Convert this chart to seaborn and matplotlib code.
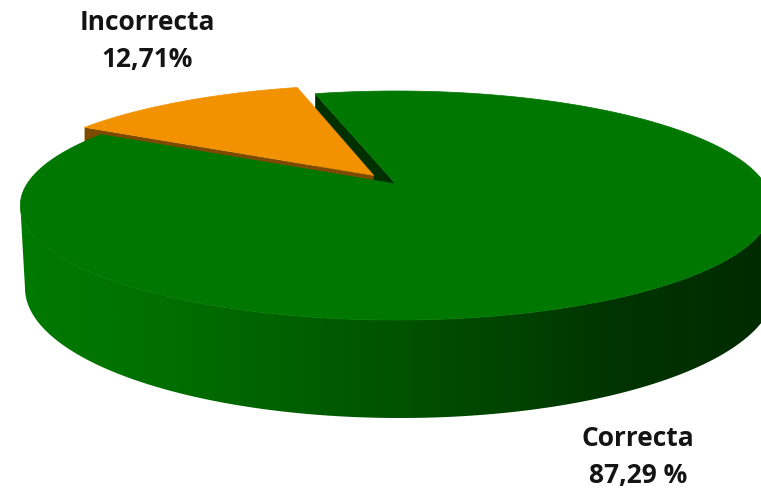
import numpy as np
import matplotlib
matplotlib.use("Agg")
import matplotlib.pyplot as plt
from matplotlib.colors import LinearSegmentedColormap
from matplotlib.patches import Polygon
import seaborn as sns

categories = ["Incorrecta", "Correcta"]
values = [12.71, 87.29]
value_labels = ["12,71%", "87,29 %"]
explode = [0.1, 0.0]

sns.set_theme(style="white")
plt.rcParams["font.family"] = ["Open Sans", "DejaVu Sans"]

# projection of the pie's disc into the picture (pixels)
CX, APEX_Y, B, A, K = 396.0, 184.0, 369.0, 110.5, 0.188
LOW_CX, LOW_CY, LOW_RX, LOW_RY = 400.0, 288.0, 375.0, 130.0
TOP_CX, TOP_CY = CX, 205.5
TOP_RX, TOP_RY = B / np.sqrt(1 - K ** 2), 114.5


def project(u, v):
    u, v = np.asarray(u, float), np.asarray(v, float)
    d = 1 + K * v
    return np.column_stack([CX + B * u / d, APEX_Y - A * v / d])


def lower(pts):
    out = pts.copy()
    out[:, 0] = LOW_CX + (pts[:, 0] - TOP_CX) * LOW_RX / TOP_RX
    out[:, 1] = LOW_CY + (pts[:, 1] - TOP_CY) * LOW_RY / TOP_RY
    return out


fig = plt.figure(figsize=(7.61, 4.93), dpi=100, facecolor="white")
ax = fig.add_axes([0, 0, 1, 1])

wedges, _ = ax.pie(values, startangle=105, counterclock=True, explode=explode, radius=1.0)
geom = []
for w in wedges:
    t = np.radians(np.linspace(w.theta1, w.theta2, 400))
    cu, cv = w.center
    geom.append((cu, cv, t))
    w.remove()

ax.set_aspect("auto")
ax.set_xlim(0, 761)
ax.set_ylim(493, 0)
ax.axis("off")


def outline(g):
    cu, cv, t = g
    arc = project(cu + np.cos(t), cv + np.sin(t))
    apex = project([cu], [cv])
    return apex, arc


apex_o, arc_o = outline(geom[0])
apex_g, arc_g = outline(geom[1])

GREEN = "#007700"
ORANGE = "#f39200"
BROWN = "#7d4b00"
WALL = "#003000"

# side wall of the notch in the green slice
edge = np.vstack([apex_g, arc_g[-1:]])
ax.add_patch(Polygon(np.vstack([edge, (edge + [0, 97])[::-1]]), closed=True, fc=WALL, ec="none", zorder=1))

# brown side of the exploded slice
edge = np.vstack([apex_o, arc_o[-1:]])
ax.add_patch(Polygon(np.vstack([edge, (edge + [0, 15])[::-1]]), closed=True, fc=BROWN, ec="none", zorder=2))

# rim of the green slice with a horizontal shading
tt = np.radians(np.linspace(180, 360, 500))
rim_top = np.column_stack([TOP_CX + TOP_RX * np.cos(tt), TOP_CY - TOP_RY * np.sin(tt)])
rim = np.vstack([rim_top, lower(rim_top)[::-1]])
cmap = LinearSegmentedColormap.from_list(
    "rim", [(0.0, "#007a00"), (0.2, "#006e00"), (0.37, "#005f00"), (0.66, "#004200"),
            (0.77, "#003500"), (1.0, "#002a00")])
img = ax.imshow(np.linspace(0, 1, 512)[None, :], cmap=cmap, extent=(20, 778, 493, 0),
                aspect="auto", zorder=3, interpolation="bilinear")
clip = Polygon(rim, closed=True, transform=ax.transData)
img.set_clip_path(clip)
ax.set_xlim(0, 761)
ax.set_ylim(493, 0)

# top faces
ax.add_patch(Polygon(np.vstack([apex_g, arc_g]), closed=True, fc=GREEN, ec=GREEN, lw=0.5, zorder=4))
ax.add_patch(Polygon(np.vstack([apex_o, arc_o]), closed=True, fc=ORANGE, ec=ORANGE, lw=0.5, zorder=5))

# labels
TXT = "#141414"
label_pos = {"Incorrecta": (147, 23, 60), "Correcta": (638, 438, 476)}
for name, val in zip(categories, value_labels):
    x, y1, y2 = label_pos[name]
    ax.text(x, y1, name, ha="center", va="center", fontsize=19, fontweight="bold", color=TXT, zorder=6)
    ax.text(x, y2, val, ha="center", va="center", fontsize=19, fontweight="bold", color=TXT, zorder=6)

fig.savefig("out.png", dpi=100, facecolor="white")
